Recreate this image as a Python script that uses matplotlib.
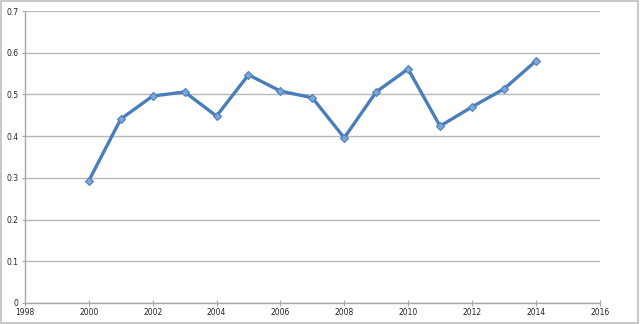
import matplotlib

matplotlib.use("Agg")
import matplotlib.pyplot as plt
from matplotlib.patches import Rectangle

years = [2000, 2001, 2002, 2003, 2004, 2005, 2006, 2007,
         2008, 2009, 2010, 2011, 2012, 2013, 2014]
values = [0.293, 0.441, 0.496, 0.506, 0.448, 0.547, 0.508, 0.492,
          0.396, 0.506, 0.561, 0.424, 0.470, 0.513, 0.580]
x_ticks = list(range(1998, 2017, 2))
y_ticks = [0, 0.1, 0.2, 0.3, 0.4, 0.5, 0.6, 0.7]
y_labels = ["0", "0.1", "0.2", "0.3", "0.4", "0.5", "0.6", "0.7"]

fig = plt.figure(figsize=(6.4, 3.24), dpi=100)
fig.patch.set_facecolor("white")
fig.patches.append(Rectangle((0.002, 0.004), 0.995, 0.992, transform=fig.transFigure,
                             fill=False, edgecolor="#bdbdbd", linewidth=1.2))

ax = fig.add_axes([0.039, 0.065, 0.898, 0.901])
ax.plot(years, values, color="#4a7ebb", linewidth=2.4, marker="D", markersize=4.5,
        markerfacecolor="#7fa6d9", markeredgecolor="#4a7ebb", markeredgewidth=0.8, zorder=3)

ax.set_xlim(1998, 2016)
ax.set_ylim(0, 0.7)
ax.set_xticks(x_ticks)
ax.set_xticklabels([str(t) for t in x_ticks])
ax.set_yticks(y_ticks)
ax.set_yticklabels(y_labels)
ax.yaxis.grid(True, color="#b8b8b8", linewidth=1.0)
ax.set_axisbelow(True)

for side in ["top", "right"]:
    ax.spines[side].set_visible(False)
for side in ["left", "bottom"]:
    ax.spines[side].set_color("#a8a8a8")
    ax.spines[side].set_linewidth(1.0)

ax.tick_params(axis="both", labelsize=5.5, colors="#a8a8a8", labelcolor="#222222",
               length=2.5, width=0.8, pad=2)
ax.tick_params(axis="x", direction="inout", length=4)

fig.savefig("out.png", dpi=100)
